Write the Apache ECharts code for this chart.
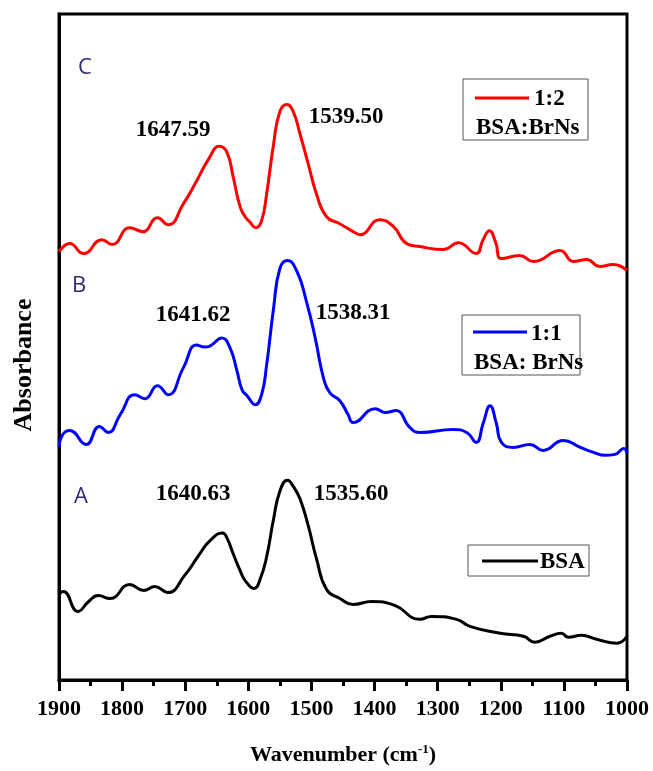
<!DOCTYPE html>
<html>
<head>
<meta charset="utf-8">
<script src="https://cdn.jsdelivr.net/npm/echarts@6/dist/echarts.min.js"></script>
<style>
html,body{margin:0;padding:0;background:#fff;}
#chart{width:653px;height:771px;}
</style>
</head>
<body>
<div id="chart"></div>
<script>
// Wavenumbers (cm-1) and absorbance (offset, arbitrary units)
var wnA = [1900,1893,1870,1853,1838,1819,1788,1766,1748,1728,1700,1677,1661,1641,1634,1624,1613,1605,1591,1581,1571,1560,1550,1538,1528,1518,1505,1492,1476,1455,1434,1405,1368,1328,1310,1270,1249,1201,1164,1146,1122,1104,1093,1072,1048,1016,1000];
var absA = [86,89,69,79,85,82,96,90,94,88,106,127,140,148,143,127,110,100,92,102,124,162,190,201,194,182,155,122,91,82,76,79,75,61,64,61,54,47,44,38,44,47,43,45,41,37,44];

var wnB = [1900,1894,1883,1857,1836,1822,1803,1780,1764,1744,1727,1703,1682,1669,1661,1642,1629,1618,1610,1602,1589,1579,1571,1560,1550,1538,1523,1508,1494,1481,1471,1455,1442,1434,1399,1383,1366,1344,1328,1275,1254,1239,1228,1217,1207,1199,1180,1154,1133,1101,1074,1053,1035,1019,1005,1000];
var absB = [234,247,251,237,255,249,267,287,283,296,287,314,337,335,336,344,334,311,292,286,277,287,317,374,414,422,411,381,344,304,289,281,267,259,273,269,271,254,249,252,249,239,258,276,258,239,234,237,231,241,234,229,226,227,233,228];

var wnC = [1900,1883,1861,1832,1816,1788,1767,1744,1727,1703,1682,1663,1646,1634,1624,1613,1605,1598,1588,1579,1571,1560,1550,1539,1529,1518,1505,1492,1476,1455,1434,1423,1392,1370,1349,1328,1291,1267,1239,1228,1218,1208,1199,1170,1148,1106,1085,1064,1043,1022,1000];
var absC = [431,439,429,443,438,455,451,465,458,479,502,524,537,531,506,476,466,461,455,462,489,539,572,579,572,549,519,489,466,459,451,448,463,456,439,436,433,440,429,443,452,440,424,427,421,432,421,423,416,418,412];

var seriesNames = ['BSA', '1:1 BSA: BrNs', '1:2 BSA:BrNs'];
var seriesColors = ['#000000', '#0000ff', '#ff0000'];
var xTicks = [1900,1800,1700,1600,1500,1400,1300,1200,1100,1000];
var peakLabels = ['1640.63','1535.60','1641.62','1538.31','1647.59','1539.50'];
var panelLabels = ['A','B','C'];

function zip(xs, ys){ var out=[]; for(var i=0;i<xs.length;i++){ out.push([xs[i], ys[i]]); } return out; }

var serif = 'Liberation Serif';
var chart = echarts.init(document.getElementById('chart'), null, {renderer:'canvas'});

function mkSeries(name, data, color){
  return {
    name: name, type: 'line', data: data, smooth: 0.5, showSymbol: false, symbol: 'none',
    lineStyle: {color: color, width: 3}, itemStyle: {color: color}, animation: false, z: 3
  };
}

function peakText(txt, x, y){
  return {type:'text', x:x, y:y, style:{text:txt, fill:'#000', font:'bold 23px "' + serif + '"', align:'center', verticalAlign:'middle'}, z: 10};
}
function panelText(txt, x, y){
  return {type:'text', x:x, y:y, style:{text:txt, fill:'#2f2b7c', font:'22px "Open Sans"', align:'center', verticalAlign:'middle'}, z: 10};
}
function legendBox(x, y, w, h, lx1, lx2, ly, color, lines){
  var children = [
    {type:'rect', shape:{x:x, y:y, width:w, height:h}, style:{fill:'#fff', stroke:'#555', lineWidth:1}},
    {type:'line', shape:{x1:lx1, y1:ly, x2:lx2, y2:ly}, style:{stroke:color, lineWidth:3}}
  ];
  lines.forEach(function(l){
    children.push({type:'text', x:l[1], y:l[2], style:{text:l[0], fill:'#000', font:'bold 23px "' + serif + '"', align:'left', verticalAlign:'middle'}});
  });
  return {type:'group', children: children, z: 10};
}

var option = {
  backgroundColor: '#fff',
  animation: false,
  grid: {left: 59, right: 26, top: 14, bottom: 87, show: true, borderColor: '#000', borderWidth: 3, backgroundColor: 'transparent'},
  xAxis: {
    type: 'value', min: 1000, max: 1900, interval: 100, inverse: true,
    axisLine: {show: true, lineStyle: {color: '#000', width: 3}},
    axisTick: {show: true, inside: false, length: 11, lineStyle: {color: '#000', width: 3}},
    minorTick: {show: true, splitNumber: 2, length: 6, lineStyle: {color: '#000', width: 3}},
    splitLine: {show: false},
    axisLabel: {color: '#000', fontFamily: serif, fontWeight: 'bold', fontSize: 22, margin: 18,
      formatter: function(v){ return xTicks.indexOf(v) >= 0 ? String(v) : ''; }},
    name: '{a|Wavenumber (cm}{s|-1}{a|)}',
    nameLocation: 'middle', nameGap: 63,
    nameTextStyle: {
      rich: {
        a: {fontFamily: serif, fontWeight: 'bold', fontSize: 22, color: '#000', lineHeight: 24},
        s: {fontFamily: serif, fontWeight: 'bold', fontSize: 13, color: '#000', lineHeight: 13, verticalAlign: 'top'}
      }
    }
  },
  yAxis: {
    type: 'value', min: 0, max: 670,
    axisLine: {show: true, lineStyle: {color: '#000', width: 3}},
    axisTick: {show: false}, axisLabel: {show: false}, splitLine: {show: false}
  },
  series: [
    mkSeries(seriesNames[0], zip(wnA, absA), seriesColors[0]),
    mkSeries(seriesNames[1], zip(wnB, absB), seriesColors[1]),
    mkSeries(seriesNames[2], zip(wnC, absC), seriesColors[2])
  ],
  graphic: [
    {type:'text', x:24, y:365, rotation: Math.PI/2,
     style:{text:'Absorbance', fill:'#000', font:'bold 26px "' + serif + '"', align:'center', verticalAlign:'middle'}, z: 10},
    panelText(panelLabels[0], 81, 497),
    panelText(panelLabels[1], 79, 286),
    panelText(panelLabels[2], 85, 68),
    peakText(peakLabels[0], 193, 494),
    peakText(peakLabels[1], 351, 494),
    peakText(peakLabels[2], 193, 315),
    peakText(peakLabels[3], 353, 313),
    peakText(peakLabels[4], 173, 130),
    peakText(peakLabels[5], 346, 117),
    legendBox(463, 79, 125, 61, 475, 529, 98, seriesColors[2], [['1:2', 534, 99], ['BSA:BrNs', 476, 128]]),
    legendBox(462, 315, 118, 60, 473, 527, 332, seriesColors[1], [['1:1', 531, 334], ['BSA: BrNs', 474, 363]]),
    legendBox(468, 545, 121, 31, 482, 538, 561, seriesColors[0], [['BSA', 540, 562]])
  ]
};
chart.setOption(option);
</script>
</body>
</html>
